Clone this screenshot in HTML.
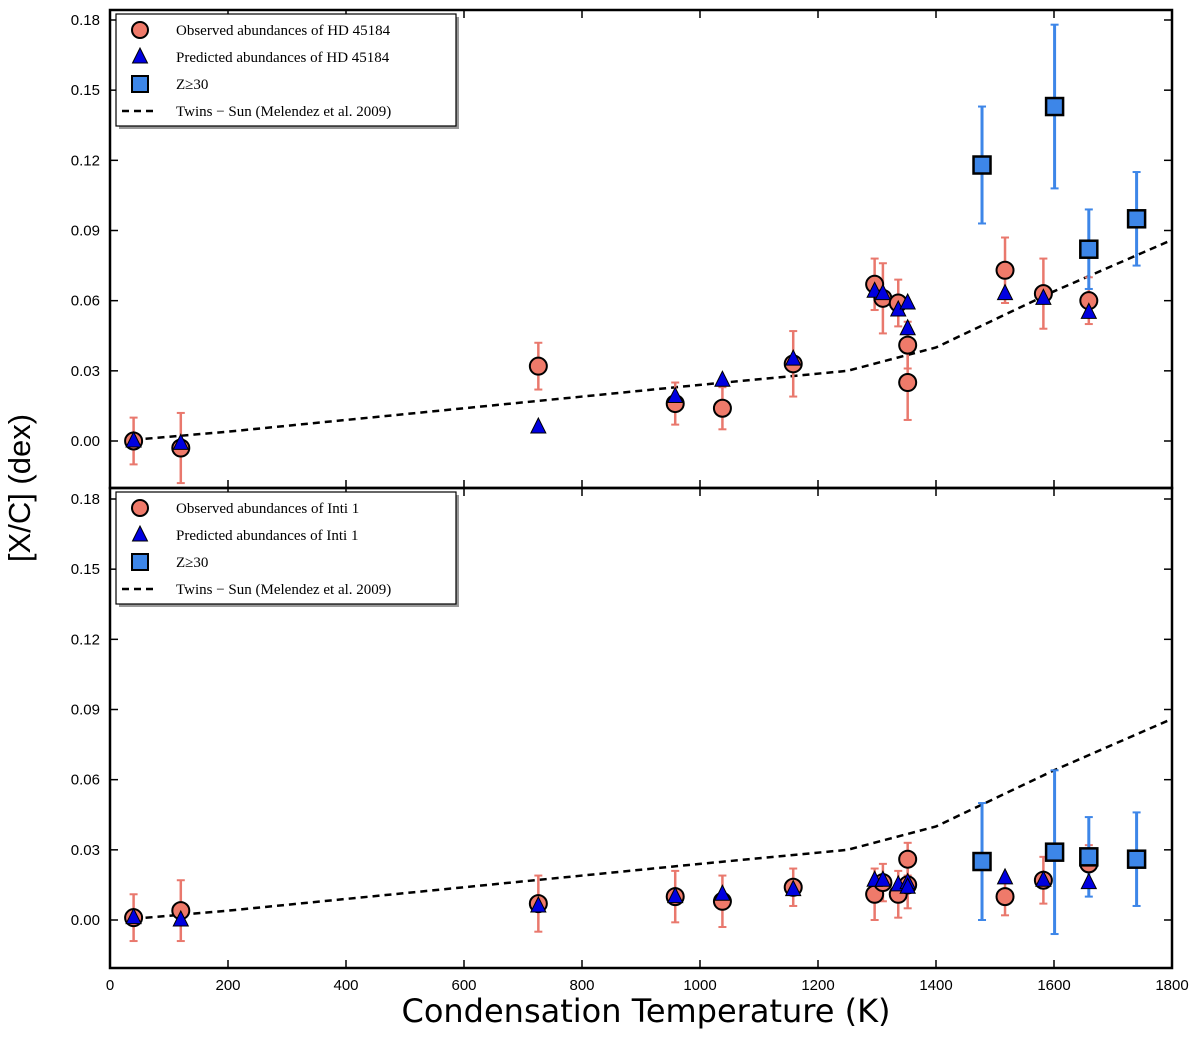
<!DOCTYPE html>
<html><head><meta charset="utf-8"><style>
body{margin:0;background:#fff}
</style></head><body>
<svg id="c" width="1200" height="1032" xmlns="http://www.w3.org/2000/svg"></svg>
<script>
const tcObs=[40,120,726,958,1038,1158,1296,1310,1336,1352,1352,1517,1582,1659];
const topObs=[0.000,-0.003,0.032,0.016,0.014,0.033,0.067,0.061,0.059,0.041,0.025,0.073,0.063,0.060];
const topObsErr=[0.010,0.015,0.010,0.009,0.009,0.014,0.011,0.015,0.010,0.010,0.016,0.014,0.015,0.010];
const topPred=[0.000,-0.001,0.006,0.019,0.026,0.035,0.064,0.063,0.056,0.059,0.048,0.063,0.061,0.055];
const tcZ=[1478,1601,1659,1740];
const topZ=[0.118,0.143,0.082,0.095];
const topZErr=[0.025,0.035,0.017,0.020];
const botObs=[0.001,0.004,0.007,0.010,0.008,0.014,0.011,0.016,0.011,0.026,0.015,0.010,0.017,0.024];
const botObsErr=[0.010,0.013,0.012,0.011,0.011,0.008,0.011,0.008,0.010,0.007,0.010,0.008,0.010,0.008];
const botPred=[0.001,0.000,0.006,0.010,0.011,0.013,0.017,0.017,0.015,0.016,0.014,0.018,0.017,0.016];
const botZ=[0.025,0.029,0.027,0.026];
const botZErr=[0.025,0.035,0.017,0.020];
const trendT=[40,200,400,600,800,1000,1250,1400,1600,1800];
const trendV=[0.0005,0.004,0.009,0.014,0.019,0.024,0.030,0.040,0.064,0.086];
const xTicks=[0,200,400,600,800,1000,1200,1400,1600,1800];
const yTicks=[0.00,0.03,0.06,0.09,0.12,0.15,0.18];

const NS="http://www.w3.org/2000/svg";
const svg=document.getElementById('c');
const SANS='font-family:"Liberation Sans",sans-serif';
const DEJA='font-family:"DejaVu Sans",sans-serif';
const SERIF='font-family:"Liberation Serif",serif';
function mk(t,a,p){const e=document.createElementNS(NS,t);for(const k in a)e.setAttribute(k,a[k]);(p||svg).appendChild(e);return e;}
const X0=110,X1=1172;
const xs=t=>X0+(t/1800)*(X1-X0);
function panel(top,bottom,y0px,obs,obsErr,pred,z,zErr,name,label){
  const g=mk('g',{});
  
  
  const ys=v=>y0px-v*(421/0.18);
  const tl=mk('polyline',{points:trendT.map((t,i)=>xs(t)+','+ys(trendV[i])).join(' '),fill:'none',stroke:'#000','stroke-width':2.5,'stroke-dasharray':'7,5'},g);
  
  
  tcObs.forEach((t,i)=>{const x=xs(t),a=ys(obs[i]+obsErr[i]),b=ys(obs[i]-obsErr[i]);
    mk('line',{x1:x,x2:x,y1:a,y2:b,stroke:'#e9786d','stroke-width':2.5},g);
    mk('line',{x1:x-4,x2:x+4,y1:a,y2:a,stroke:'#e9786d','stroke-width':2},g);
    mk('line',{x1:x-4,x2:x+4,y1:b,y2:b,stroke:'#e9786d','stroke-width':2},g);});
  tcZ.forEach((t,i)=>{const x=xs(t),a=ys(z[i]+zErr[i]),b=ys(z[i]-zErr[i]);
    mk('line',{x1:x,x2:x,y1:a,y2:b,stroke:'#3d86e8','stroke-width':3},g);
    mk('line',{x1:x-4,x2:x+4,y1:a,y2:a,stroke:'#3d86e8','stroke-width':2},g);
    mk('line',{x1:x-4,x2:x+4,y1:b,y2:b,stroke:'#3d86e8','stroke-width':2},g);});
  tcObs.forEach((t,i)=>{const c=mk('circle',{cx:xs(t),cy:ys(obs[i]),r:8.5,fill:'#ef7a6a',stroke:'#000','stroke-width':2},g);
    });
  tcObs.forEach((t,i)=>{const x=xs(t),y=ys(pred[i]);const p=mk('polygon',{points:`${x},${y-9} ${x-7.5},${y+6} ${x+7.5},${y+6}`,fill:'#0000e0',stroke:'#000','stroke-width':1},g);
    });
  tcZ.forEach((t,i)=>{const r=mk('rect',{x:xs(t)-8.5,y:ys(z[i])-8.5,width:17,height:17,fill:'#3d86e8',stroke:'#000','stroke-width':2.5},g);
    });
  mk('rect',{x:X0,y:top,width:X1-X0,height:bottom-top,fill:'none',stroke:'#000','stroke-width':2.5},g);
  yTicks.forEach(v=>{const y=ys(v);mk('line',{x1:X0,x2:X0+8,y1:y,y2:y,stroke:'#000','stroke-width':1.5},g);mk('line',{x1:X1-8,x2:X1,y1:y,y2:y,stroke:'#000','stroke-width':1.5},g);
    const tx=mk('text',{x:X0-10,y:y+5,'text-anchor':'end','font-size':15,style:SANS},g);tx.textContent=v.toFixed(2);
    });
  xTicks.forEach(t=>{const x=xs(t);mk('line',{x1:x,x2:x,y1:bottom,y2:bottom-8,stroke:'#000','stroke-width':1.5},g);mk('line',{x1:x,x2:x,y1:top,y2:top+8,stroke:'#000','stroke-width':1.5},g);});
  const lg=mk('g',{},g);
  const lx=116,ly=top+4,lw=label.length>10?345:340;
  mk('rect',{x:lx+3,y:ly+3,width:lw,height:112,fill:'#999'},lg);
  mk('rect',{x:lx,y:ly,width:lw,height:112,fill:'#fff',stroke:'#000','stroke-width':1.2},lg);
  const rows=['Observed abundances of '+label,'Predicted abundances of '+label,'Z\u226530','Twins \u2212 Sun (Melendez et al. 2009)'];
  rows.forEach((s,i)=>{const y=ly+16+i*27,mx=lx+24;
    if(i==0)mk('circle',{cx:mx,cy:y,r:8,fill:'#ef7a6a',stroke:'#000','stroke-width':2},lg);
    if(i==1)mk('polygon',{points:`${mx},${y-9} ${mx-7.5},${y+6} ${mx+7.5},${y+6}`,fill:'#0000e0',stroke:'#000'},lg);
    if(i==2)mk('rect',{x:mx-8,y:y-8,width:16,height:16,fill:'#3d86e8',stroke:'#000','stroke-width':2},lg);
    if(i==3)mk('line',{x1:mx-18,x2:mx+18,y1:y,y2:y,stroke:'#000','stroke-width':2.5,'stroke-dasharray':'7,5'},lg);
    const t=mk('text',{x:lx+60,y:y+5,'font-size':15,style:SERIF},lg);t.textContent=s;
    });
}
panel(10,488,441,topObs,topObsErr,topPred,topZ,topZErr,'top-panel-hd45184','HD 45184');
panel(488,968,920,botObs,botObsErr,botPred,botZ,botZErr,'bottom-panel-inti1','Inti 1');
xTicks.forEach(t=>{const tx=mk('text',{x:xs(t),y:990,'text-anchor':'middle','font-size':15,style:SANS});tx.textContent=t;
  });
const xl=mk('text',{x:646,y:1022,'text-anchor':'middle','font-size':32,style:DEJA});xl.textContent='Condensation Temperature (K)';

const yl=mk('text',{x:30,y:488,'text-anchor':'middle','font-size':31,style:SANS,transform:'rotate(-90 30 488)'});yl.textContent='[X/C] (dex)';

</script>
</body></html>
